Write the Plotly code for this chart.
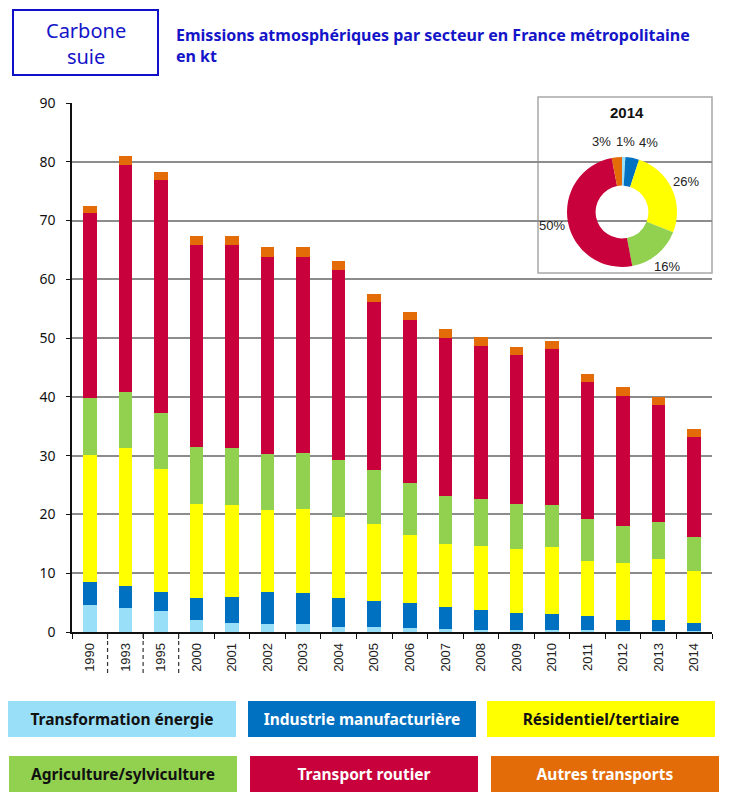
import math
import plotly.graph_objects as go

years = ["1990", "1993", "1995", "2000", "2001", "2002", "2003", "2004", "2005",
         "2006", "2007", "2008", "2009", "2010", "2011", "2012", "2013", "2014"]

series_names = ["Transformation énergie", "Industrie manufacturière", "Résidentiel/tertiaire",
                "Agriculture/sylviculture", "Transport routier", "Autres transports"]

transformation_energie = [4.6, 4.1, 3.6, 2.0, 1.6, 1.3, 1.3, 0.9, 0.8, 0.6, 0.5, 0.4, 0.3, 0.3, 0.3, 0.2, 0.2, 0.1]
industrie_manufacturiere = [3.9, 3.7, 3.2, 3.8, 4.4, 5.5, 5.3, 4.9, 4.5, 4.3, 3.7, 3.3, 3.0, 2.7, 2.4, 1.8, 1.8, 1.4]
residentiel_tertiaire = [21.6, 23.5, 20.9, 16.0, 15.6, 13.9, 14.3, 13.8, 13.1, 11.6, 10.8, 10.9, 10.8, 11.4, 9.4, 9.7, 10.4, 8.9]
agriculture_sylviculture = [9.7, 9.5, 9.5, 9.7, 9.7, 9.6, 9.5, 9.7, 9.2, 8.8, 8.1, 8.0, 7.7, 7.2, 7.1, 6.3, 6.3, 5.8]
transport_routier = [31.5, 38.6, 39.7, 34.3, 34.5, 33.5, 33.4, 32.3, 28.5, 27.8, 26.9, 26.0, 25.4, 26.5, 23.3, 22.2, 19.9, 17.0]
autres_transports = [1.2, 1.6, 1.3, 1.5, 1.5, 1.7, 1.7, 1.6, 1.4, 1.3, 1.5, 1.6, 1.3, 1.4, 1.4, 1.5, 1.4, 1.3]

pie_year = "2014"
pie_pct = [1, 4, 26, 16, 50, 3]

colors = ["#9ADFF8", "#0070C0", "#FFFF00", "#92D050", "#C8003C", "#E36C09"]
text_colors = ["#111111", "#FFFFFF", "#111111", "#111111", "#FFFFFF", "#FFFFFF"]

all_series = [transformation_energie, industrie_manufacturiere, residentiel_tertiaire,
              agriculture_sylviculture, transport_routier, autres_transports]

W, H = 732, 810
L, R, T, B = 72, 20, 103, 178
pw, ph = W - L - R, H - T - B


def px(x):
    return (x - L) / pw


def py(y):
    return (H - B - y) / ph


fig = go.Figure()
for name, vals, col in zip(series_names, all_series, colors):
    fig.add_trace(go.Bar(x=years, y=vals, name=name, marker=dict(color=col, line=dict(width=0)),
                         width=0.38, showlegend=False))

# donut inset (centre and radius in pixels)
pcx, pcy, prad = 622, 212, 55
fig.add_trace(go.Pie(values=pie_pct, labels=series_names, sort=False, direction="clockwise",
                     rotation=0, hole=0.48,
                     marker=dict(colors=colors, line=dict(width=0)),
                     textinfo="none", hoverinfo="label+percent",
                     domain=dict(x=[px(pcx - prad), px(pcx + prad)], y=[py(pcy + prad), py(pcy - prad)]),
                     showlegend=False))

# pie labels placed at each slice's mid-angle, then spread apart if they collide
total = sum(pie_pct)
lab = []
cum = 0
for v in pie_pct:
    mid = (cum + v / 2) / total * 2 * math.pi
    cum += v
    r = prad + 16
    lab.append([pcx + r * math.sin(mid), pcy - r * math.cos(mid), v])
for _ in range(20):
    for i in range(len(lab)):
        for j in range(len(lab)):
            if i < j and abs(lab[i][1] - lab[j][1]) < 14 and abs(lab[i][0] - lab[j][0]) < 23:
                d = (23 - abs(lab[i][0] - lab[j][0])) / 2 + 0.1
                s = 1 if lab[i][0] >= lab[j][0] else -1
                lab[i][0] += s * d
                lab[j][0] -= s * d

shapes = []
shapes.append(dict(type="rect", xref="paper", yref="paper", x0=px(538), x1=px(712), y0=py(273), y1=py(97),
                   fillcolor="white", line=dict(color="#A8A8A8", width=1.5), layer="between"))
shapes.append(dict(type="rect", xref="paper", yref="paper", x0=px(13), x1=px(158), y0=py(75), y1=py(10),
                   fillcolor="white", line=dict(color="#1010C8", width=2), layer="above"))
for i in range(3):
    shapes.append(dict(type="line", xref="x", yref="paper", x0=i + 0.5, x1=i + 0.5, y0=py(634), y1=py(676),
                       line=dict(color="#333333", width=1.2, dash="4px,3px")))

annotations = []
for x, y, v in lab:
    annotations.append(dict(text=f"{v}%", xref="paper", yref="paper", x=px(x), y=py(y),
                            xanchor="center", yanchor="middle", showarrow=False,
                            font=dict(family="Liberation Sans", size=13, color="#222222")))
annotations.append(dict(text="Carbone<br>suie", xref="paper", yref="paper", x=px(85.5), y=py(43.5),
                        xanchor="center", yanchor="middle", showarrow=False,
                        font=dict(family="Noto Sans", size=20, color="#1414C8")))
annotations.append(dict(text="<b>Emissions atmosphériques par secteur en France métropolitaine<br>en kt</b>",
                        xref="paper", yref="paper", x=px(174), y=py(22), xanchor="left", yanchor="top",
                        align="left", showarrow=False,
                        font=dict(family="Noto Sans", size=16, color="#1414C8")))
annotations.append(dict(text="<b>" + pie_year + "</b>", xref="paper", yref="paper", x=px(627), y=py(112),
                        xanchor="center", yanchor="middle", showarrow=False,
                        font=dict(family="Liberation Sans", size=15, color="#111111")))

legend_centers = [(122, 719), (362, 719), (601, 719), (122.5, 774), (364, 774), (605, 774)]
for (cx, cy), name, col, tcol in zip(legend_centers, series_names, colors, text_colors):
    annotations.append(dict(text="<b>" + name + "</b>", xref="paper", yref="paper", x=px(cx), y=py(cy),
                            xanchor="center", yanchor="middle", showarrow=False,
                            width=228, height=36, bgcolor=col, borderpad=0, borderwidth=0,
                            font=dict(family="Noto Sans", size=15.5, color=tcol)))

fig.update_layout(
    width=W, height=H, barmode="stack", bargap=0.6,
    margin=dict(l=L, r=R, t=T, b=B, pad=0),
    paper_bgcolor="white", plot_bgcolor="white",
    shapes=shapes, annotations=annotations,
    xaxis=dict(type="category", showline=True, linecolor="#111111", linewidth=1.5,
               ticks="outside", tickson="boundaries", ticklen=5, tickcolor="#111111",
               tickangle=-90, tickfont=dict(family="Liberation Sans", size=13, color="#222222"),
               ticklabelstandoff=4, showgrid=False),
    yaxis=dict(range=[0, 90], dtick=10, showline=True, linecolor="#111111", linewidth=1.5,
               ticks="outside", ticklen=4, tickcolor="#111111", ticklabelstandoff=8,
               tickfont=dict(family="Noto Sans", size=14, color="#111111"),
               showgrid=True, gridcolor="#8C8C8C", gridwidth=2, zeroline=False),
)

fig.write_html("out.html", config={"displayModeBar": False},
               post_script="document.body.style.margin='0';document.body.style.overflow='hidden';")
